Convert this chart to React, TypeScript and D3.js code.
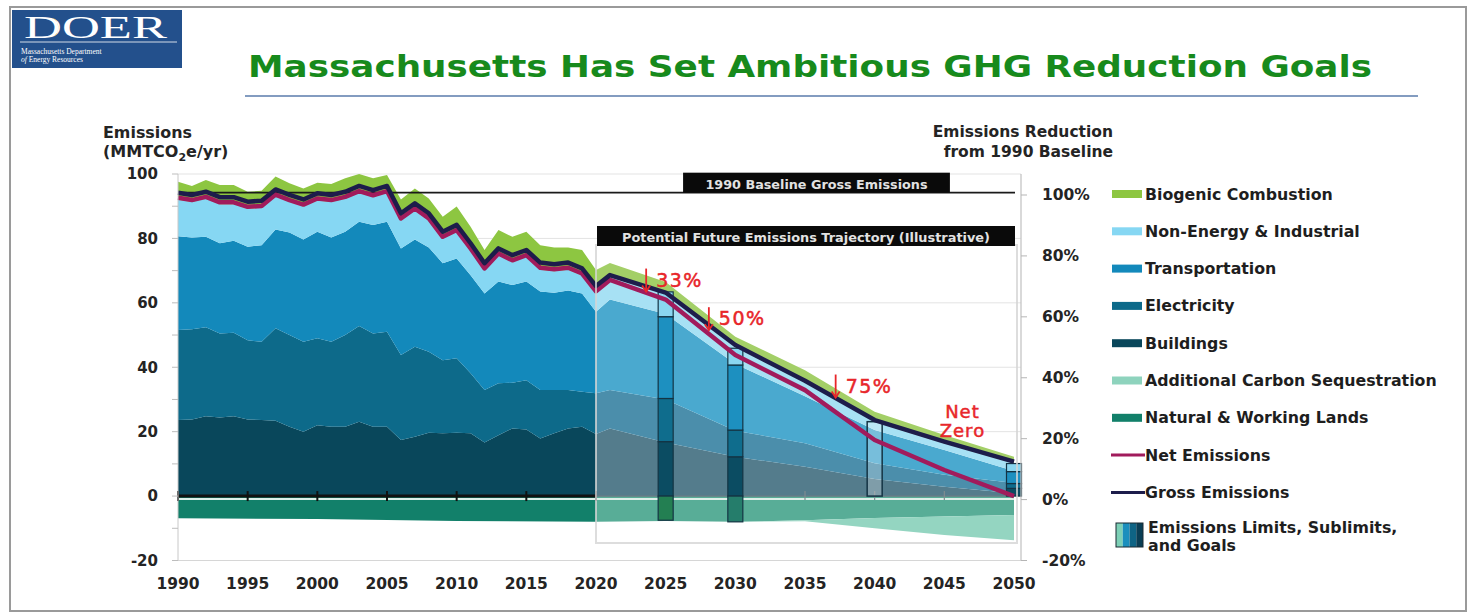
import * as d3 from "d3";

// Historical inventory, MMTCO2e/yr
const histYears = [
  1990, 1991, 1992, 1993, 1994, 1995, 1996, 1997, 1998, 1999, 2000, 2001, 2002, 2003, 2004, 2005,
  2006, 2007, 2008, 2009, 2010, 2011, 2012, 2013, 2014, 2015, 2016, 2017, 2018, 2019, 2020,
];
const histBuildings = [
  23.6, 23.8, 24.8, 24.4, 24.8, 23.8, 23.6, 23.4, 21.5, 20.0, 22.0, 21.5, 21.5, 23.1, 21.5, 21.5,
  17.4, 18.4, 19.7, 19.5, 19.7, 19.5, 16.6, 18.9, 21.0, 20.7, 17.9, 19.5, 21.0, 21.5, 19.3,
];
const histElectricity = [
  28.0, 28.0, 27.6, 26.1, 25.9, 24.6, 24.3, 28.7, 28.5, 27.9, 27.0, 26.4, 28.5, 29.7, 29.0, 29.5,
  26.4, 28.0, 25.1, 22.7, 23.1, 18.6, 16.3, 16.1, 14.2, 15.3, 15.0, 13.4, 11.9, 10.9, 12.6,
];
const histTransport = [
  29.1, 28.5, 28.1, 28.0, 28.6, 29.0, 30.0, 30.7, 31.8, 31.8, 33.1, 32.4, 32.1, 32.4, 33.7, 34.2,
  33.1, 33.3, 32.4, 30.1, 31.0, 30.5, 30.0, 31.6, 30.3, 30.6, 30.6, 30.2, 30.9, 30.5, 25.3,
];
const histNonEnergy = [
  11.3, 11.0, 11.8, 12.1, 11.3, 11.8, 11.6, 10.2, 9.5, 10.2, 9.7, 11.0, 10.2, 8.9, 8.6, 8.9,
  8.7, 9.0, 8.4, 7.6, 8.2, 7.7, 7.2, 8.1, 7.1, 7.6, 6.8, 6.7, 6.5, 5.6, 5.8,
];
const histBiogenic = [
  5.6, 5.0, 5.8, 6.0, 6.0, 5.3, 5.3, 6.2, 5.8, 5.6, 5.5, 5.6, 6.4, 5.9, 5.9, 5.6,
  6.5, 6.8, 6.8, 6.8, 7.9, 7.3, 6.3, 7.9, 7.9, 7.9, 7.6, 7.4, 6.9, 7.9, 7.2,
];
const histGross = [
  94.2, 93.5, 94.5, 92.8, 92.8, 91.4, 91.7, 95.2, 93.5, 92.1, 94.0, 93.5, 94.5, 96.3, 95.0, 96.3,
  87.8, 90.9, 87.8, 82.1, 84.2, 78.5, 72.3, 76.9, 74.8, 76.4, 72.5, 72.0, 72.5, 70.7, 65.2,
];
const histNet = [
  92.6, 91.9, 92.9, 91.2, 91.2, 89.8, 90.1, 93.6, 91.9, 90.5, 92.4, 91.9, 92.9, 94.7, 93.4, 94.7,
  86.2, 89.3, 86.2, 80.5, 82.6, 76.9, 70.7, 75.3, 73.2, 74.8, 70.9, 70.4, 70.9, 69.1, 63.6,
];
const histLandYears = [1990, 2000, 2010, 2020];
const histLands = [6.9, 7.1, 7.7, 8.0];

// Illustrative trajectory
const futYears = [2020, 2021, 2025, 2030, 2035, 2040, 2045, 2050];
const futBuildings = [19.3, 21.0, 16.6, 12.2, 9.1, 5.3, 2.9, 0.9];
const futElectricity = [12.6, 11.9, 13.4, 8.1, 7.3, 4.9, 3.7, 3.2];
const futTransport = [25.3, 28.1, 26.5, 20.7, 14.6, 10.3, 7.7, 3.7];
const futNonEnergy = [5.8, 7.0, 6.1, 5.3, 4.2, 2.5, 2.0, 2.3];
const futBiogenic = [7.2, 4.4, 3.9, 3.2, 3.9, 3.2, 2.7, 2.1];
const futGross = [65.2, 68.6, 63.2, 46.9, 35.8, 23.6, 16.9, 10.7];
const futNet = [63.6, 67.1, 61.0, 43.8, 32.9, 17.4, 8.1, 0];
const futLandYears = [2020, 2025, 2030, 2035, 2040, 2045, 2050];
const futLands = [8.0, 7.7, 8.0, 7.5, 6.8, 6.3, 5.9];
const futSequestration = [0, 0, 0, 0.3, 3.2, 5.8, 7.8];

// Limits / sublimits / goals
const limitYears = [2025, 2030, 2040, 2050];
const limitTotals = [63.4, 45.9, 23.1, 10.1];
const limitBuildings = [16.9, 12.2, 0, 2.4];
const limitElectricity = [13.4, 8.3, 0, 1.5];
const limitTransport = [25.4, 20.2, 0, 3.7];
const limitNonEnergy = [7.7, 5.2, 0, 2.5];
const limitLands = [7.5, 8.0, 0, 0];

const goalLabels = ["33%", "50%", "75%"];
const goalYears = [2023.6, 2028.1, 2037.2];
const goalValues = [63.5, 51.5, 30.6];

const legendNames = [
  "Biogenic Combustion",
  "Non-Energy & Industrial",
  "Transportation",
  "Electricity",
  "Buildings",
  "Additional Carbon Sequestration",
  "Natural & Working Lands",
  "Net Emissions",
  "Gross Emissions",
];

const keys = ["buildings", "electricity", "transport", "nonEnergy", "biogenic"];
const histColor: Record<string, string> = {
  buildings: "#09475b",
  electricity: "#0d6a8a",
  transport: "#1389bb",
  nonEnergy: "#86d7f3",
  biogenic: "#8dc641",
};
const futColor: Record<string, string> = {
  buildings: "#547c8c",
  electricity: "#4b8eab",
  transport: "#4aa9cf",
  nonEnergy: "#a7e1f4",
  biogenic: "#a3cf67",
};
const legendColors = ["#8dc641", "#86d7f3", "#1389bb", "#0d6a8a", "#09475b", "#8ed3bd", "#12806a", "#a11b5c", "#1d1d4b"];

const FONT = "'DejaVu Sans', Verdana, sans-serif";
const INK = "#242424";

export default function App() {
  const x = d3.scaleLinear().domain([1990, 2050]).range([178, 1014]);
  const y = d3.scaleLinear().domain([-20, 100]).range([560.5, 174]);
  const yPct = d3.scaleLinear().domain([-20, 100]).range([560.5, 195]);

  const histRows = histYears.map((year, i) => ({
    year,
    buildings: histBuildings[i],
    electricity: histElectricity[i],
    transport: histTransport[i],
    nonEnergy: histNonEnergy[i],
    biogenic: histBiogenic[i],
  }));
  const futRows = futYears.map((year, i) => ({
    year,
    buildings: futBuildings[i],
    electricity: futElectricity[i],
    transport: futTransport[i],
    nonEnergy: futNonEnergy[i],
    biogenic: futBiogenic[i],
  }));
  const stacker = d3.stack<any>().keys(keys);
  const histStack = stacker(histRows);
  const futStack = stacker(futRows);

  const stackArea = d3
    .area<any>()
    .x((d) => x(d.data.year))
    .y0((d) => y(d[0]))
    .y1((d) => y(d[1]));

  const landArea = d3
    .area<[number, number, number]>()
    .x((d) => x(d[0]))
    .y0((d) => y(-d[1]))
    .y1((d) => y(-d[2]));

  const histLandPath = landArea(histLandYears.map((yr, i) => [yr, 0, histLands[i]]));
  const futLandPath = landArea(futLandYears.map((yr, i) => [yr, 0, futLands[i]]));
  const seqPath = landArea(
    futLandYears.map((yr, i) => [yr, futLands[i], futLands[i] + futSequestration[i]])
  );

  const lineGen = d3
    .line<[number, number]>()
    .x((d) => x(d[0]))
    .y((d) => y(d[1]));
  const allYears = histYears.concat(futYears.slice(1));
  const allGross = histGross.concat(futGross.slice(1));
  const allNet = histNet.concat(futNet.slice(1));
  const grossPath = lineGen(allYears.map((yr, i) => [yr, allGross[i]]));
  const netPath = lineGen(allYears.map((yr, i) => [yr, allNet[i]]));

  const baseline = histGross[0];
  const y0 = y(0);
  const barW = 15;

  const legendY = (i: number) => 194 + i * 37.3;

  return (
    <svg
      width={1478}
      height={615}
      style={{ position: "absolute", left: 0, top: 0, background: "#fff" }}
      fontFamily={FONT}
    >
      <rect x={10} y={7} width={1456} height={604} fill="#fff" stroke="#9a9a9a" strokeWidth={2} />

      {/* logo */}
      <rect x={12} y={10} width={170} height={58} fill="#23508c" />
      <text x={24} y={38} fill="#fff" fontFamily="'Liberation Serif', serif" fontSize={31} textLength={143} lengthAdjust="spacingAndGlyphs">
        DOER
      </text>
      <path d="M52,18 A9,10 0 0 1 52,37 A6,9 0 0 0 52,18 Z" fill="#e6c33a" />
      <line x1={20} x2={177} y1={42} y2={42} stroke="#fff" strokeWidth={0.8} />
      <text x={21} y={54} fill="#fff" fontFamily="'Liberation Serif', serif" fontSize={7.5}>
        Massachusetts Department
      </text>
      <text x={21} y={62} fill="#fff" fontFamily="'Liberation Serif', serif" fontSize={7.5}>
        <tspan fontStyle="italic">of</tspan> Energy Resources
      </text>

      {/* title */}
      <text x={248} y={77} fill="#178a1c" fontSize={31} fontWeight="bold" textLength={1124} lengthAdjust="spacingAndGlyphs">
        Massachusetts Has Set Ambitious GHG Reduction Goals
      </text>
      <line x1={245} x2={1418} y1={96} y2={96} stroke="#5a7bab" strokeWidth={1.5} />

      {/* axis titles */}
      <text x={103} y={138} fontSize={16} fontWeight="bold" fill={INK} textLength={89} lengthAdjust="spacingAndGlyphs">
        Emissions
      </text>
      <text x={103} y={157} fontSize={16} fontWeight="bold" fill={INK}>
        (MMTCO<tspan fontSize={11} dy={4}>2</tspan>
        <tspan dy={-4}>e/yr)</tspan>
      </text>
      <text x={1113} y={137} fontSize={15.5} fontWeight="bold" fill={INK} textAnchor="end">
        Emissions Reduction
      </text>
      <text x={1113} y={157} fontSize={15.5} fontWeight="bold" fill={INK} textAnchor="end">
        from 1990 Baseline
      </text>

      {/* gridlines */}
      {[20, 40, 60, 80, 100].map((v) => (
        <line key={v} x1={x(1990)} x2={1021} y1={y(v)} y2={y(v)} stroke="#e3e3e3" strokeWidth={1} />
      ))}
      <line x1={x(1990)} x2={1021} y1={y(-20)} y2={y(-20)} stroke="#d6d6d6" strokeWidth={1.2} />

      {/* historical stacked areas */}
      {histStack.map((s) => (
        <path key={"h" + s.key} d={stackArea(s) || ""} fill={histColor[s.key]} />
      ))}
      <path d={histLandPath || ""} fill="#12806a" />

      {/* future stacked areas */}
      {futStack.map((s) => (
        <path key={"f" + s.key} d={stackArea(s) || ""} fill={futColor[s.key]} />
      ))}
      <path d={futLandPath || ""} fill="#58ad97" />
      <path d={seqPath || ""} fill="#94d5c1" />

      {/* zero axis */}
      <line x1={x(1990)} x2={x(2050)} y1={y0 + 3} y2={y0 + 3} stroke="#dcefe8" strokeWidth={2} />
      <line x1={x(2020)} x2={x(2050)} y1={y0} y2={y0} stroke="#6d7d86" strokeWidth={1.2} />
      {[2035, 2040, 2045].map((yr) => (
        <line key={yr} x1={x(yr)} x2={x(yr)} y1={y0 - 5} y2={y0 + 4} stroke="#7f8b90" strokeWidth={1.2} />
      ))}
      <line x1={x(1990)} x2={x(2020)} y1={y0} y2={y0} stroke="#111" strokeWidth={3} />
      {[1990, 1995, 2000, 2005, 2010, 2015, 2020].map((yr) => (
        <line key={yr} x1={x(yr)} x2={x(yr)} y1={y0 - 5} y2={y0 + 5} stroke="#111" strokeWidth={2} />
      ))}

      {/* 1990 baseline */}
      <line x1={x(1990)} x2={x(2050) + 1} y1={y(baseline)} y2={y(baseline)} stroke="#1a1a1a" strokeWidth={1.8} />

      {/* limits bars */}
      {limitYears.map((yr, i) => {
        const cx = x(yr);
        const segs = [
          { v0: 0, v1: limitBuildings[i], c: "#0b4c62" },
          { v0: limitBuildings[i], v1: limitBuildings[i] + limitElectricity[i], c: "#0f6d8d" },
          {
            v0: limitBuildings[i] + limitElectricity[i],
            v1: limitBuildings[i] + limitElectricity[i] + limitTransport[i],
            c: "#1d90c0",
          },
          {
            v0: limitBuildings[i] + limitElectricity[i] + limitTransport[i],
            v1: limitTotals[i],
            c: "#8ad6f0",
          },
        ];
        const hollow = limitBuildings[i] === 0;
        return (
          <g key={yr}>
            {!hollow &&
              segs.map((sg, j) => (
                <rect
                  key={j}
                  x={cx - barW / 2}
                  width={barW}
                  y={y(sg.v1)}
                  height={y(sg.v0) - y(sg.v1)}
                  fill={sg.c}
                  stroke="#143444"
                  strokeWidth={1.2}
                />
              ))}
            {hollow && (
              <rect
                x={cx - barW / 2}
                width={barW}
                y={y(limitTotals[i])}
                height={y0 - y(limitTotals[i])}
                fill="#ffffff"
                fillOpacity={0.25}
                stroke="#143444"
                strokeWidth={1.5}
              />
            )}
            {limitLands[i] > 0 && (
              <rect
                x={cx - barW / 2}
                width={barW}
                y={y0}
                height={y(-limitLands[i]) - y0}
                fill={i === 0 ? "#237f52" : "#257d6b"}
                stroke="#143444"
                strokeWidth={1.2}
              />
            )}
          </g>
        );
      })}

      {/* emissions lines */}
      <path d={netPath || ""} fill="none" stroke="#a11b5c" strokeWidth={4.5} strokeLinejoin="round" />
      <path d={grossPath || ""} fill="none" stroke="#1d1d4b" strokeWidth={4.5} strokeLinejoin="round" />

      {/* future frame and labels */}
      <rect
        x={x(2020)}
        y={245}
        width={x(2050) - x(2020) + 3}
        height={298}
        fill="none"
        stroke="#d4d4d4"
        strokeOpacity={0.8}
        strokeWidth={2}
      />
      <rect x={x(2026.25)} y={y(baseline) - 20} width={x(2045.4) - x(2026.25)} height={20} fill="#0a0a0a" />
      <text x={(x(2026.25) + x(2045.4)) / 2} y={y(baseline) - 4} fill="#e2e2e2" fontSize={12} fontWeight="bold" textAnchor="middle" textLength={222} lengthAdjust="spacingAndGlyphs">
        1990 Baseline Gross Emissions
      </text>
      <rect x={x(2020) + 1} y={226} width={x(2050) - x(2020)} height={20} fill="#0a0a0a" />
      <text x={(x(2020) + x(2050)) / 2 + 1} y={242} fill="#e2e2e2" fontSize={12} fontWeight="bold" textAnchor="middle" textLength={368} lengthAdjust="spacingAndGlyphs">
        Potential Future Emissions Trajectory (Illustrative)
      </text>

      {/* goal annotations */}
      {goalLabels.map((lab, i) => {
        const ax = x(goalYears[i]);
        const ay = y(goalValues[i]);
        return (
          <g key={lab}>
            <line x1={ax} x2={ax} y1={ay - 23} y2={ay} stroke="#e8262a" strokeWidth={1.8} />
            <path d={`M${ax - 4},${ay - 6} L${ax},${ay} L${ax + 4},${ay - 6}`} fill="none" stroke="#e8262a" strokeWidth={1.8} />
            <text x={ax + 10} y={ay - 5} fill="#e8262a" stroke="#e8262a" strokeWidth={0.5} fontSize={19} letterSpacing={1.5}>
              {lab}
            </text>
          </g>
        );
      })}
      <text x={x(2046.3)} y={y(24.3)} fill="#e8262a" stroke="#e8262a" strokeWidth={0.5} fontSize={18} letterSpacing={1} textAnchor="middle">
        Net
      </text>
      <text x={x(2046.3)} y={y(24.3) + 19} fill="#e8262a" stroke="#e8262a" strokeWidth={0.5} fontSize={18} letterSpacing={1} textAnchor="middle">
        Zero
      </text>

      {/* left axis */}
      <line x1={178} x2={178} y1={y(100)} y2={y(-20)} stroke="#c8c8c8" strokeWidth={1} />
      {y.ticks(12).map((v) => (
        <line key={"lt" + v} x1={172} x2={178} y1={y(v)} y2={y(v)} stroke="#bdbdbd" strokeWidth={1} />
      ))}
      {[-20, 0, 20, 40, 60, 80, 100].map((v) => (
        <text key={"ll" + v} x={158} y={y(v)} dy="0.35em" textAnchor="end" fontSize={15} fontWeight="bold" fill={INK}>
          {v}
        </text>
      ))}

      {/* right axis */}
      <line x1={1021} x2={1021} y1={y(100)} y2={yPct(-20)} stroke="#c0c0c0" strokeWidth={1.2} />
      {yPct.ticks(6).map((v) => (
        <g key={"r" + v}>
          <line x1={1021} x2={1027} y1={yPct(v)} y2={yPct(v)} stroke="#b5b5b5" strokeWidth={1} />
          <text x={1042} y={yPct(v)} dy="0.35em" fontSize={15.5} fontWeight="bold" fill={INK}>
            {v}%
          </text>
        </g>
      ))}

      {/* x axis labels */}
      {x.ticks(12).map((yr) => (
        <text key={"x" + yr} x={x(yr)} y={589} textAnchor="middle" fontSize={15.5} fontWeight="bold" fill={INK}>
          {yr}
        </text>
      ))}

      {/* legend */}
      {legendNames.map((name, i) => {
        const ly = legendY(i);
        const isLine = i >= 7;
        return (
          <g key={name}>
            {isLine ? (
              <line x1={1111} x2={1145} y1={ly} y2={ly} stroke={legendColors[i]} strokeWidth={3} />
            ) : (
              <rect x={1112} y={ly - 4} width={30} height={8} fill={legendColors[i]} />
            )}
            <text x={1145} y={ly} dy="0.35em" fontSize={15.8} fontWeight="bold" fill="#1e1e1e">
              {name}
            </text>
          </g>
        );
      })}
      {["#7dd0b6", "#1b8fbd", "#0e6485", "#0a3e55"].map((c, i) => (
        <rect key={c} x={1116 + i * 6.75} y={523} width={6.75} height={24} fill={c} />
      ))}
      <rect x={1116} y={523} width={27} height={24} fill="none" stroke="#1a2a33" strokeWidth={1} />
      <text x={1148} y={527} dy="0.35em" fontSize={15.8} fontWeight="bold" fill="#1e1e1e">
        Emissions Limits, Sublimits,
      </text>
      <text x={1148} y={545} dy="0.35em" fontSize={15.8} fontWeight="bold" fill="#1e1e1e">
        and Goals
      </text>
    </svg>
  );
}
